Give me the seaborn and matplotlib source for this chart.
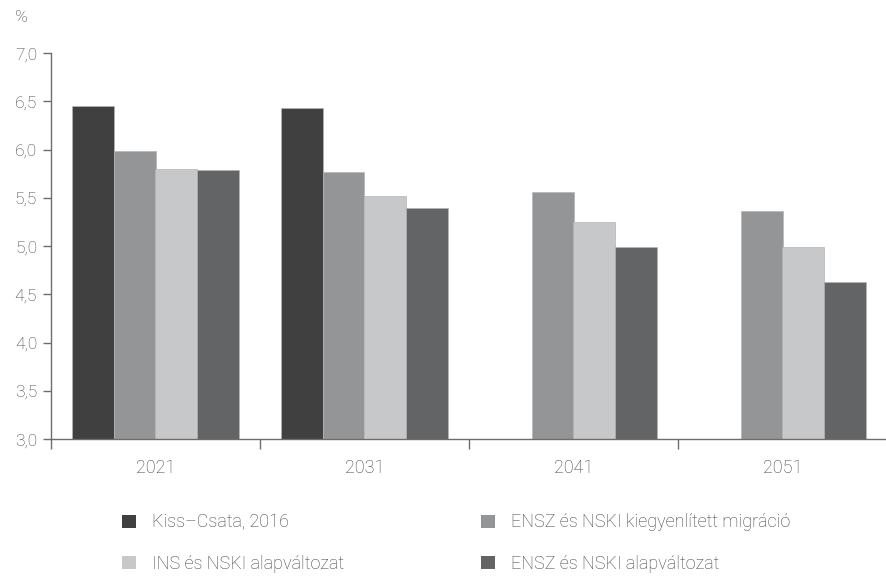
import pandas as pd
import numpy as np
import seaborn as sns
import matplotlib.pyplot as plt
from matplotlib.patches import Patch

years = ["2021", "2031", "2041", "2051"]
series = ["Kiss–Csata, 2016",
          "ENSZ és NSKI kiegyenlített migráció",
          "INS és NSKI alapváltozat",
          "ENSZ és NSKI alapváltozat"]
kiss_csata = [6.45, 6.43, np.nan, np.nan]
ensz_kiegy = [5.99, 5.77, 5.56, 5.37]
ins_alap = [5.80, 5.52, 5.25, 4.99]
ensz_alap = [5.79, 5.40, 4.99, 4.63]
colors = ["#404040", "#939598", "#c7c8ca", "#636466"]

df = pd.DataFrame({"year": years,
                   series[0]: kiss_csata,
                   series[1]: ensz_kiegy,
                   series[2]: ins_alap,
                   series[3]: ensz_alap})
df = df.melt(id_vars="year", var_name="series", value_name="value")

sns.set_style("white")
plt.rcParams['font.family'] = ['Roboto', 'DejaVu Sans']
plt.rcParams['font.weight'] = 'light'
text_color = "#404040"

fig = plt.figure(figsize=(8.87, 5.78), dpi=100)
ax = fig.add_axes([51 / 887, 0.24, 1 - 51 / 887, 0.908 - 0.24])

sns.barplot(data=df, x="year", y="value", hue="series", hue_order=series,
            palette=colors, width=0.8, edgecolor="#b5b5b5", linewidth=0.5,
            ax=ax, legend=False)

ax.set_ylim(3.0, 7.0)
ax.set_xlim(-0.5, 3.48)
yticks = np.arange(3.0, 7.01, 0.5)
ax.set_yticks(yticks)
ax.set_yticklabels([f"{v:.1f}".replace(".", ",") for v in yticks])
ax.set_xlabel("")
ax.set_ylabel("")

for s in ["top", "right"]:
    ax.spines[s].set_visible(False)
for s in ["left", "bottom"]:
    ax.spines[s].set_color("#6d6d6d")
    ax.spines[s].set_linewidth(1.0)

ax.tick_params(axis="y", which="major", direction="out", length=6, width=1,
               color="#6d6d6d", labelsize=12.5, labelcolor=text_color, pad=4, left=True)
ax.tick_params(axis="x", which="major", length=0, labelsize=13,
               labelcolor=text_color, pad=14)
ax.set_xticks(np.arange(-0.5, 3.6, 1.0), minor=True)
ax.tick_params(axis="x", which="minor", direction="out", length=7, width=1,
               color="#6d6d6d", bottom=True)

fig.text(15 / 887, 1 - 18 / 578, "%", fontsize=12.5, color=text_color,
         ha="left", va="center")

order = [0, 2, 1, 3]
handles = [Patch(facecolor=colors[i], edgecolor="none") for i in order]
labels = [series[i] for i in order]
fig.legend(handles, labels, ncol=2, loc="center left",
           bbox_to_anchor=(106 / 887, 1 - 543 / 578), frameon=False,
           fontsize=13, labelcolor=text_color, handlelength=0.75,
           handleheight=0.75, handletextpad=0.9, columnspacing=7.6,
           labelspacing=1.28)

fig.savefig("out.png", dpi=100)
